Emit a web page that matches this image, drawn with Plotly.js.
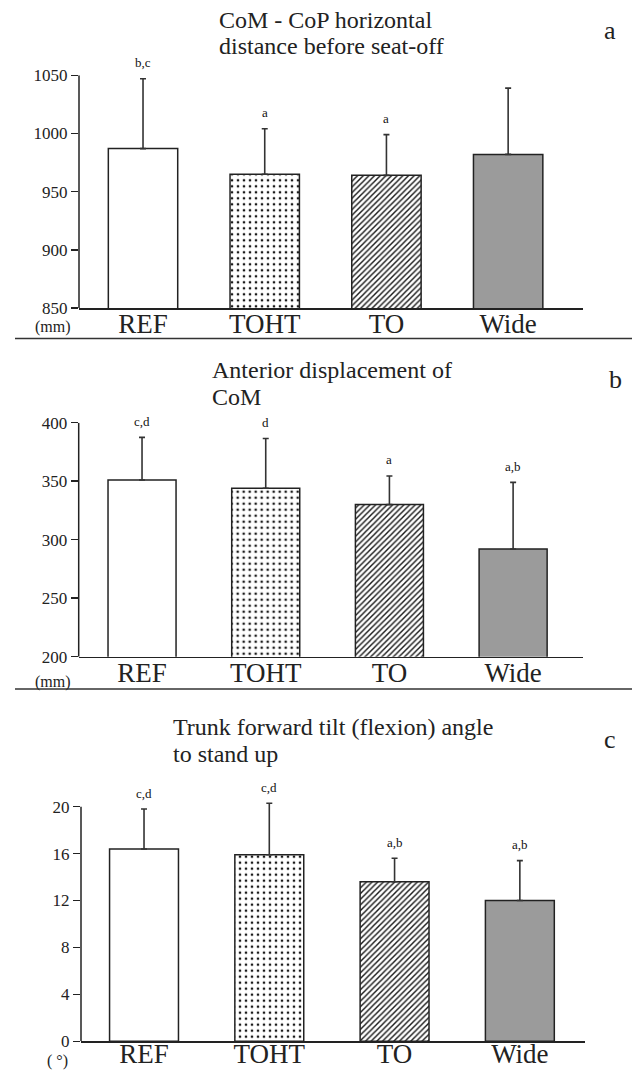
<!DOCTYPE html>
<html><head><meta charset="utf-8">
<script src="https://cdn.plot.ly/plotly-3.0.1.min.js"></script>
<style>html,body{margin:0;padding:0;background:#fff}#chart{width:636px;height:1072px}</style>
</head><body><div id="chart"></div>
<script>
// ---- data ----
const categories = ['REF', 'TOHT', 'TO', 'Wide'];

const meanA = [987, 965, 964, 982];
const sdA   = [60, 39, 35, 57];
const sigA  = ['b,c', 'a', 'a', ''];
const ticksA = [850, 900, 950, 1000, 1050];

const meanB = [351, 344, 330, 292];
const sdB   = [36.5, 42.5, 24.5, 57];
const sigB  = ['c,d', 'd', 'a', 'a,b'];
const ticksB = [200, 250, 300, 350, 400];

const meanC = [16.4, 15.9, 13.6, 12.0];
const sdC   = [3.4, 4.4, 2.0, 3.4];
const sigC  = ['c,d', 'c,d', 'a,b', 'a,b'];
const ticksC = [0, 4, 8, 12, 16, 20];

const titleA = ['CoM - CoP horizontal', 'distance before seat-off'];
const titleB = ['Anterior displacement of', 'CoM'];
const titleC = ['Trunk forward tilt (flexion) angle', 'to stand up'];
const panelLetters = ['a', 'b', 'c'];
const units = ['(mm)', '(mm)', '( °)'];

// ---- styling / layout helpers ----
const W = 636, H = 1072;
const px = x => x / W;
const py = y => 1 - y / H;
const SERIF = 'Liberation Serif, Times New Roman, serif';
const INK = '#222';

const fillColors = ['#ffffff', '#ffffff', '#ffffff', '#9b9b9b'];
const patShapes = ['', '.', '/', ''];
const patSizes = [6, 6, 4, 6];
const patSolid = [0.3, 0.16, 0.36, 0.3];

const panels = [
  {mean: meanA, sd: sdA, sig: sigA, ticks: ticksA, title: titleA, xd: [79, 583], yd: [75.3, 308], xr: [-0.526, 3.615], bw: 0.57, titleX: 217, titleY: [20, 46], letter: [610, 31], unit: [53, 327], sep: 338.5, stand: -9},
  {mean: meanB, sd: sdB, sig: sigB, ticks: ticksB, title: titleB, xd: [78.7, 583], yd: [422.7, 656.7], xr: [-0.512, 3.565], bw: 0.55, titleX: 210, titleY: [370, 397], letter: [615, 379], unit: [53, 682], sep: 689, stand: -9},
  {mean: meanC, sd: sdC, sig: sigC, ticks: ticksC, title: titleC, xd: [81, 585], yd: [806.7, 1041.3], xr: [-0.503, 3.52], bw: 0.55, titleX: 171, titleY: [727, 754], letter: [610, 739], unit: [58, 1061], sep: null, stand: -12}
];

const data = [];
const layout = {
  width: W, height: H,
  margin: {l: 0, r: 0, t: 0, b: 0},
  paper_bgcolor: '#fff', plot_bgcolor: 'rgba(0,0,0,0)',
  showlegend: false, barmode: 'overlay',
  font: {family: SERIF, color: INK},
  annotations: [], shapes: []
};

panels.forEach((p, i) => {
  const n = i === 0 ? '' : String(i + 1);
  const xa = 'x' + n, ya = 'y' + n;
  const t0 = p.ticks[0], t1 = p.ticks[p.ticks.length - 1];
  // let the range reach above the top tick when an error bar does (axis line still stops at top tick)
  const maxTop = Math.max(...p.mean.map((m, k) => m + p.sd[k]));
  const top = maxTop > t1 ? maxTop + (t1 - t0) * 0.015 : t1;
  const pxPerUnit = (p.yd[1] - p.yd[0]) / (t1 - t0);
  const domTopPx = p.yd[0] - (top - t1) * pxPerUnit;

  categories.forEach((c, k) => {
    const marker = {color: fillColors[k], line: {color: INK, width: 1.5}};
    if (patShapes[k]) {
      marker.pattern = {shape: patShapes[k], fgcolor: '#1a1a1a', bgcolor: fillColors[k], size: patSizes[k], solidity: patSolid[k], fillmode: 'replace'};
    }
    data.push({
      type: 'bar', x: [c], y: [p.mean[k]], xaxis: xa, yaxis: ya, width: p.bw,
      marker: marker, cliponaxis: false,
      error_y: {type: 'data', symmetric: false, array: [p.sd[k]], arrayminus: [0], color: '#333', thickness: 1.6, width: 3},
      hoverinfo: 'skip'
    });
    if (p.sig[k]) {
      layout.annotations.push({
        xref: xa, yref: ya, x: c, y: p.mean[k] + p.sd[k], text: p.sig[k],
        showarrow: false, yanchor: 'middle', yshift: 16,
        font: {family: SERIF, size: 13, color: '#111'}
      });
    }
  });
  layout['xaxis' + n] = {
    domain: [px(p.xd[0]), px(p.xd[1])], anchor: ya, type: 'category',
    categoryarray: categories, range: p.xr,
    showline: true, linecolor: INK, linewidth: 1.5, ticks: '', showgrid: false, zeroline: false,
    ticklabelstandoff: p.stand,
    tickfont: {family: SERIF, size: 27, color: INK}, fixedrange: true
  };
  layout['yaxis' + n] = {
    domain: [py(p.yd[1]), py(domTopPx)], anchor: xa, range: [t0, top], tickvals: p.ticks,
    ticks: 'outside', ticklen: 7, tickwidth: 1.5, tickcolor: INK,
    showline: false, showgrid: false, zeroline: false,
    tickfont: {family: SERIF, size: 17, color: INK}, fixedrange: true
  };
  // y-axis line from bottom tick to top tick
  layout.shapes.push({type: 'line', xref: xa + ' domain', yref: ya, x0: 0, x1: 0, y0: t0, y1: t1, line: {color: INK, width: 1.5}});
  // titles (two lines)
  p.title.forEach((t, l) => {
    layout.annotations.push({
      xref: 'paper', yref: 'paper', x: px(p.titleX), y: py(p.titleY[l]), text: t,
      showarrow: false, xanchor: 'left', yanchor: 'middle',
      font: {family: SERIF, size: 24, color: INK}
    });
  });
  // panel letter
  layout.annotations.push({
    xref: 'paper', yref: 'paper', x: px(p.letter[0]), y: py(p.letter[1]), text: panelLetters[i],
    showarrow: false, xanchor: 'center', yanchor: 'middle',
    font: {family: SERIF, size: 26, color: INK}
  });
  // unit
  layout.annotations.push({
    xref: 'paper', yref: 'paper', x: px(p.unit[0]), y: py(p.unit[1]), text: units[i],
    showarrow: false, xanchor: 'center', yanchor: 'middle',
    font: {family: SERIF, size: 16, color: INK}
  });
  if (p.sep !== null) {
    layout.shapes.push({type: 'line', xref: 'paper', yref: 'paper', x0: px(15), x1: px(632), y0: py(p.sep), y1: py(p.sep), line: {color: '#333', width: 1.5}});
  }
});

Plotly.newPlot('chart', data, layout, {staticPlot: true, displayModeBar: false});
</script>
</body></html>
